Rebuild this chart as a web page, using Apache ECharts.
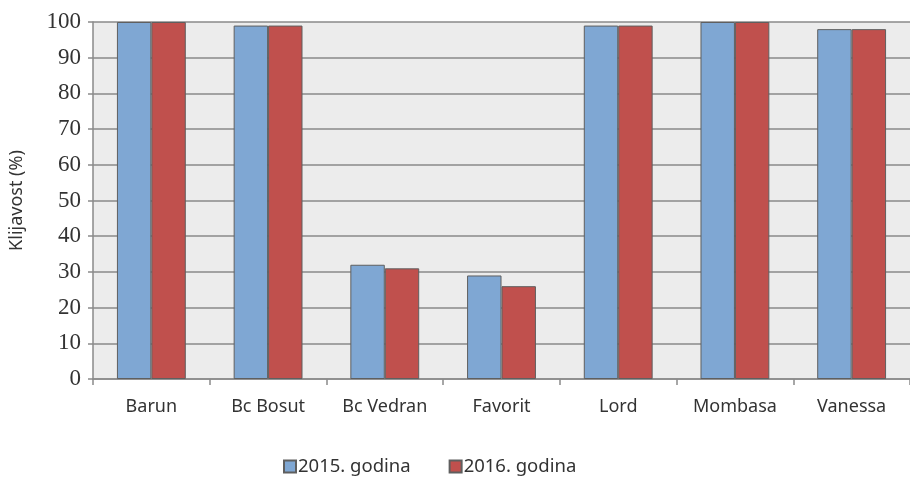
<!DOCTYPE html>
<html><head><meta charset="utf-8">
<script src="https://cdn.jsdelivr.net/npm/echarts@6/dist/echarts.min.js"></script>
<style>html,body{margin:0;padding:0;background:#fff}#c{width:910px;height:477px}</style>
</head><body><div id="c"></div>
<script>
const categories = ['Barun','Bc Bosut','Bc Vedran','Favorit','Lord','Mombasa','Vanessa'];
const seriesNames = ['2015. godina','2016. godina'];
const values2015 = [100, 99, 32, 29, 99, 100, 98];
const values2016 = [100, 99, 31, 26, 99, 100, 98];
const yTicks = [0,10,20,30,40,50,60,70,80,90,100];

const chart = echarts.init(document.getElementById('c'));
const border = {borderColor:'#5f5f5f', borderWidth:1};
chart.setOption({
  animation:false,
  grid:{left:92, top:22, width:826, bottom:98, show:true, backgroundColor:'#ececec', borderWidth:0},
  legend:{
    top:457, left:283, itemGap:38, itemWidth:12, itemHeight:12, icon:'rect', padding:0,
    textStyle:{fontFamily:'Noto Sans', fontSize:18.5, color:'#333', padding:[0,0,0,-3]},
    data:seriesNames
  },
  xAxis:{
    type:'category', data:categories,
    axisLine:{lineStyle:{color:'#8a8a8a', width:1.5}},
    axisTick:{show:true, length:6, lineStyle:{color:'#8a8a8a', width:1.5}},
    axisLabel:{fontFamily:'Noto Sans', fontSize:18, color:'#333', margin:19}
  },
  yAxis:{
    type:'value', min:yTicks[0], max:yTicks[yTicks.length-1], interval:10,
    name:'Klijavost (%)', nameLocation:'middle', nameGap:67, nameRotate:90,
    nameTextStyle:{fontFamily:'Noto Sans', fontSize:18, color:'#333'},
    axisLine:{show:true, lineStyle:{color:'#8a8a8a', width:1.5}},
    axisTick:{show:true, length:5, lineStyle:{color:'#8a8a8a', width:1.5}},
    axisLabel:{fontFamily:'Liberation Serif', fontSize:23, color:'#333', margin:12},
    splitLine:{lineStyle:{color:'#8a8a8a', width:1.5}}
  },
  series:[
    {name:seriesNames[0], type:'bar', data:values2015, barGap:'0%', barCategoryGap:'41%',
     itemStyle:Object.assign({color:'#7fa7d3'}, border)},
    {name:seriesNames[1], type:'bar', data:values2016, barGap:'0%', barCategoryGap:'41%',
     itemStyle:Object.assign({color:'#c0504d'}, border)}
  ]
});
</script></body></html>
